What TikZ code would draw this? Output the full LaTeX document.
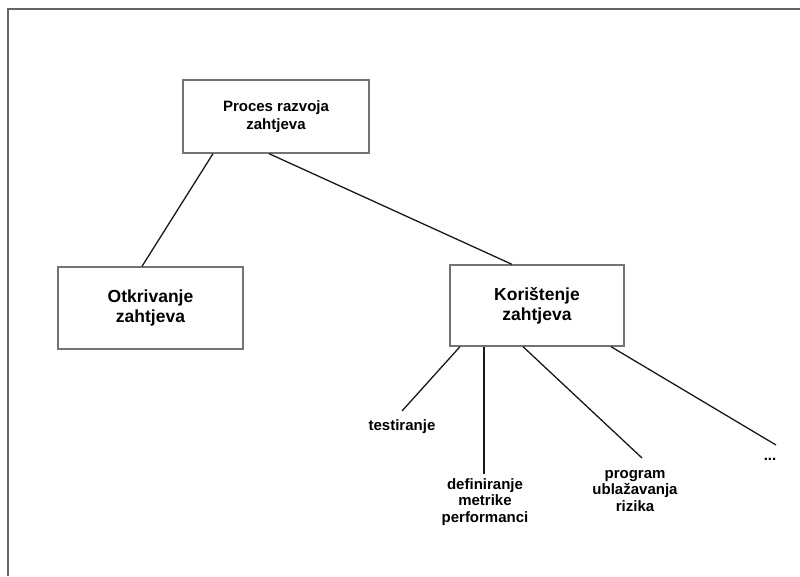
\documentclass[tikz,border=0pt]{standalone}
\usepackage{fontspec}
\setmainfont{Liberation Sans}
\begin{document}
\begin{tikzpicture}[x=1pt,y=-1pt,
  box/.style={draw=black!55, line width=1.3pt, fill=white, inner sep=0pt, align=center, font=\bfseries\fontsize{17.5}{20}\selectfont},
  smallbox/.style={box, font=\bfseries\fontsize{15}{18}\selectfont},
  leaf/.style={inner sep=0pt, align=center, font=\bfseries\fontsize{15}{16.5}\selectfont},
  conn/.style={line width=1.3pt, black!90},
  frame/.style={line width=1.2pt, black!60}]
\useasboundingbox (0,0) rectangle (800,576);
\coordinate (fa) at (800,9);
\coordinate (fb) at (8,9);
\coordinate (fc) at (8,576);
\draw[frame] (fa) -- (fb) -- (fc);

\node[smallbox, minimum width=186pt, minimum height=73pt] (proc) at (276,116.5) {Proces razvoja\\zahtjeva};
\node[box, minimum width=185pt, minimum height=82pt] (otk) at (150.5,308) {Otkrivanje\\zahtjeva};
\node[box, minimum width=174pt, minimum height=81pt] (kor) at (537,305.5) {Korištenje\\zahtjeva};

\node[leaf] (test) at (402,427) {testiranje};
\node[leaf] (def) at (485,502) {definiranje\\metrike\\performanci};
\node[leaf] (prog) at (635,491) {program\\ublažavanja\\rizika};
\node[leaf] (dots) at (770,459) {...};

\coordinate (etest) at (402,411);
\coordinate (edef) at (484,474);
\coordinate (eprog) at (642,458);
\coordinate (edots) at (776,445);

\draw[conn] ([xshift=-63pt]proc.south) -- ([xshift=-8.5pt]otk.north);
\draw[conn] ([xshift=-7pt]proc.south) -- ([xshift=-25pt]kor.north);
\draw[conn] ([xshift=-77pt]kor.south) -- (etest);
\draw[conn] ([xshift=-53pt]kor.south) -- (edef);
\draw[conn] ([xshift=-14pt]kor.south) -- (eprog);
\draw[conn] ([xshift=74pt]kor.south) -- (edots);
\end{tikzpicture}
\end{document}
